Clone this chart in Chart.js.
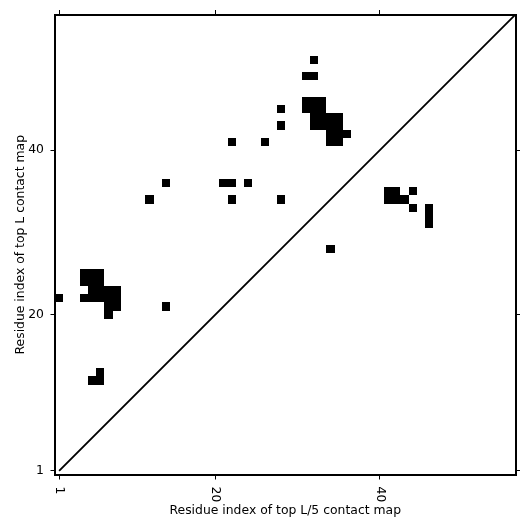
<!DOCTYPE html>
<html><head><meta charset="utf-8">
<script src="https://cdn.jsdelivr.net/npm/chart.js@4.4.1/dist/chart.umd.min.js"></script>
<style>html,body{margin:0;padding:0;background:#fff}#wrap{width:531px;height:531px}</style>
</head><body><div id="wrap"><canvas id="c" width="531" height="531"></canvas></div>
<script>
// ---- data ----
const axisMin = 0.5;
const axisMax = 56.5;
const tickValues = [1, 20, 40];
const xAxisLabel = 'Residue index of top L/5 contact map';
const yAxisLabel = 'Residue index of top L contact map';
// contact cells (residue i on x, residue j on y)
const contactX = [
  1,
  4,5,6, 4,5,6, 5,6,7,8, 4,5,6,7,8, 7,8, 7,
  6, 5,6,
  14,
  12, 14, 21,22, 24, 22, 28, 22, 26, 28, 28,
  32, 31,32,
  31,32,33, 31,32,33, 32,33,34,35, 32,33,34,35, 34,35,36, 34,35,
  34,
  41,42,44, 41,42,43, 44, 46,46,46
];
const contactY = [
  22,
  25,25,25, 24,24,24, 23,23,23,23, 22,22,22,22,22, 21,21, 20,
  13, 12,12,
  21,
  34, 36, 36,36, 36, 34, 34, 41, 41, 43, 45,
  51, 49,49,
  46,46,46, 45,45,45, 44,44,44,44, 43,43,43,43, 42,42,42, 41,41,
  28,
  35,35,35, 34,34,34, 33, 33,32,31
];
const diagonalX = [1, 56.5];
const diagonalY = [1, 56.5];

// ---- chart ----
Chart.defaults.font.family = '"DejaVu Sans", sans-serif';
Chart.defaults.font.size = 12.4;
Chart.defaults.color = '#000';

const cells = contactX.map((x, i) => ({x: x, y: contactY[i]}));
const diagonal = diagonalX.map((x, i) => ({x: x, y: diagonalY[i]}));

function setTicks(scale) { scale.ticks = tickValues.map(v => ({value: v})); }
const gridOpts = {drawOnChartArea: false, drawTicks: true, tickLength: 4.5, tickWidth: 1, tickColor: '#000'};
const borderOpts = {display: true, color: '#000', width: 2};

function cellRadius(ctx) {
  const s = ctx.chart.scales.x;
  if (!s) return 5;
  const side = Math.abs(s.getPixelForValue(1) - s.getPixelForValue(0));
  return (side - 1) * Math.SQRT1_2;
}

// fill each contact cell edge-to-edge on whole pixels (like an image cell), from the scales
const cellFill = {
  id: 'cellFill',
  afterDatasetsDraw(chart) {
    const xs = chart.scales.x, ys = chart.scales.y, ctx = chart.ctx;
    const meta = chart.getDatasetMeta(1);
    ctx.save();
    ctx.fillStyle = '#000';
    meta.data.forEach((el, i) => {
      const d = cells[i];
      const x0 = Math.round(xs.getPixelForValue(d.x - 0.5));
      const x1 = Math.round(xs.getPixelForValue(d.x + 0.5));
      const y0 = Math.round(ys.getPixelForValue(d.y + 0.5));
      const y1 = Math.round(ys.getPixelForValue(d.y - 0.5));
      ctx.fillRect(x0, y0, x1 - x0, y1 - y0);
    });
    ctx.restore();
  }
};

const rotatedTickLabels = {
  id: 'rotatedTickLabels',
  afterDraw(chart) {
    const s = chart.scales.x;
    const ctx = chart.ctx;
    ctx.save();
    ctx.fillStyle = '#000';
    ctx.font = '12.4px "DejaVu Sans"';
    ctx.textAlign = 'left';
    ctx.textBaseline = 'middle';
    s.ticks.forEach(t => {
      const px = s.getPixelForValue(t.value);
      ctx.save();
      ctx.translate(px, chart.chartArea.bottom + 11.5);
      ctx.rotate(Math.PI / 2);
      ctx.fillText(String(t.value), 0, 0);
      ctx.restore();
    });
    ctx.restore();
  }
};

new Chart(document.getElementById('c'), {
  type: 'scatter',
  data: {
    datasets: [
      {
        type: 'line',
        data: diagonal,
        borderColor: '#000',
        borderWidth: 1.8,
        pointRadius: 0,
        fill: false
      },
      {
        data: cells,
        pointStyle: 'rect',
        backgroundColor: '#000',
        borderColor: '#000',
        borderWidth: 0,
        pointRadius: cellRadius,
        pointHoverRadius: cellRadius
      }
    ]
  },
  options: {
    responsive: false,
    animation: false,
    events: [],
    layout: {padding: 0},
    plugins: {legend: {display: false}, tooltip: {enabled: false}},
    scales: {
      x: {
        type: 'linear', position: 'bottom', min: axisMin, max: axisMax,
        afterBuildTicks: setTicks,
        ticks: {display: false},
        grid: gridOpts, border: borderOpts,
        title: {display: true, text: xAxisLabel, color: '#000', font: {size: 12.4}, padding: {top: 0, bottom: 13}},
        afterFit: (s) => { s.height = 56; }
      },
      x2: {
        type: 'linear', position: 'top', min: axisMin, max: axisMax,
        afterBuildTicks: setTicks,
        ticks: {display: false},
        grid: gridOpts, border: borderOpts,
        afterFit: (s) => { s.height = 14.5; }
      },
      y: {
        type: 'linear', position: 'left', min: axisMin, max: axisMax,
        afterBuildTicks: setTicks,
        ticks: {color: '#000', padding: 6.5, font: {size: 12.4}},
        grid: gridOpts, border: borderOpts,
        title: {display: true, text: yAxisLabel, color: '#000', font: {size: 12.4}, padding: {top: 13.5, bottom: 0}},
        afterFit: (s) => { s.width = 55; }
      },
      y2: {
        type: 'linear', position: 'right', min: axisMin, max: axisMax,
        afterBuildTicks: setTicks,
        ticks: {display: false},
        grid: gridOpts, border: borderOpts,
        afterFit: (s) => { s.width = 15.5; }
      }
    }
  },
  plugins: [cellFill, rotatedTickLabels]
});
</script>
</body></html>
